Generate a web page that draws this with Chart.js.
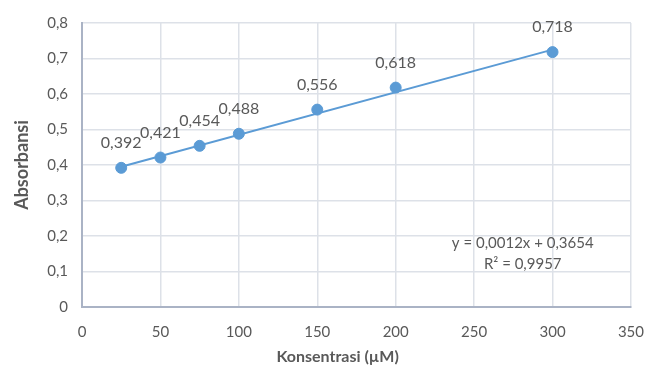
<!DOCTYPE html>
<html>
<head>
<meta charset="utf-8">
<script src="https://cdn.jsdelivr.net/npm/chart.js@4"></script>
<style>
  html, body { margin: 0; padding: 0; background: #fff; }
  #wrap { width: 660px; height: 370px; }
</style>
</head>
<body>
<div id="wrap"><canvas id="calChart" width="660" height="370"></canvas></div>
<script>
// values
const concentrations = [25, 50, 75, 100, 150, 200, 300];
const absorbances = [0.392, 0.421, 0.454, 0.488, 0.556, 0.618, 0.718];
const trendX = [25, 300];
const trendY = [0.395, 0.725];
const equationLines = ['y = 0,0012x + 0,3654', 'R² = 0,9957'];
const xTitle = 'Konsentrasi (µM)';

const textColor = '#595959';
const blue = '#5b9bd5';
const fontFamily = 'Lato, "Open Sans", sans-serif';

const fmt = v => String(v).replace('.', ',');

// point value labels, trendline equation and x axis title
const labelsPlugin = {
    id: 'labels',
    afterDatasetsDraw(chart) {
        const ctx = chart.ctx;
        const xs = chart.scales.x, ys = chart.scales.y;
        ctx.save();
        ctx.fillStyle = textColor;
        ctx.font = '16px ' + fontFamily;
        ctx.textAlign = 'center';
        ctx.textBaseline = 'middle';
        chart.getDatasetMeta(1).data.forEach((pt, i) => {
            ctx.fillText(fmt(absorbances[i]), pt.x, pt.y - 25);
        });
        ctx.font = '15px ' + fontFamily;
        ctx.fillText(equationLines[0], xs.getPixelForValue(281), ys.getPixelForValue(0.181));
        ctx.fillText(equationLines[1], xs.getPixelForValue(281), ys.getPixelForValue(0.12));
        // excel puts the axis title a bit left of centre
        ctx.font = 'bold 16px ' + fontFamily;
        ctx.fillText(xTitle, xs.getPixelForValue(163), xs.bottom - 13);
        ctx.restore();
    }
};

new Chart(document.getElementById('calChart'), {
    type: 'scatter',
    data: {
        datasets: [
            {
                label: 'Trendline',
                type: 'line',
                data: trendX.map((x, i) => ({ x: x, y: trendY[i] })),
                borderColor: blue,
                borderWidth: 2,
                pointRadius: 0,
                fill: false
            },
            {
                label: 'Absorbansi',
                data: concentrations.map((x, i) => ({ x: x, y: absorbances[i] })),
                backgroundColor: blue,
                borderColor: blue,
                pointRadius: 5.5,
                showLine: false
            }
        ]
    },
    options: {
        responsive: false,
        animation: false,
        layout: { padding: { top: 20, right: 25, left: 0, bottom: 0 } },
        plugins: {
            legend: { display: false },
            tooltip: { enabled: false }
        },
        scales: {
            x: {
                type: 'linear',
                min: 0,
                max: 350,
                ticks: { stepSize: 50, color: textColor, font: { family: fontFamily, size: 15 }, padding: 16 },
                grid: { color: '#dde1e8', lineWidth: 1.5, drawTicks: false },
                border: { color: '#aab3c5', width: 2 },
                afterFit(scale) { scale.height = 63; }
            },
            y: {
                min: 0,
                max: 0.8,
                ticks: {
                    stepSize: 0.1,
                    color: textColor,
                    font: { family: fontFamily, size: 15 },
                    padding: 14,
                    callback: v => fmt(Math.round(v * 10) / 10)
                },
                grid: { color: '#dde1e8', lineWidth: 1.5, drawTicks: false },
                border: { color: '#aab3c5', width: 2 },
                title: {
                    display: true,
                    text: 'Absorbansi',
                    color: textColor,
                    font: { family: fontFamily, size: 18, weight: 'bold' },
                    padding: { top: 11, bottom: 0 }
                },
                afterFit(scale) { scale.width = 82; }
            }
        }
    },
    plugins: [labelsPlugin]
});
</script>
</body>
</html>
